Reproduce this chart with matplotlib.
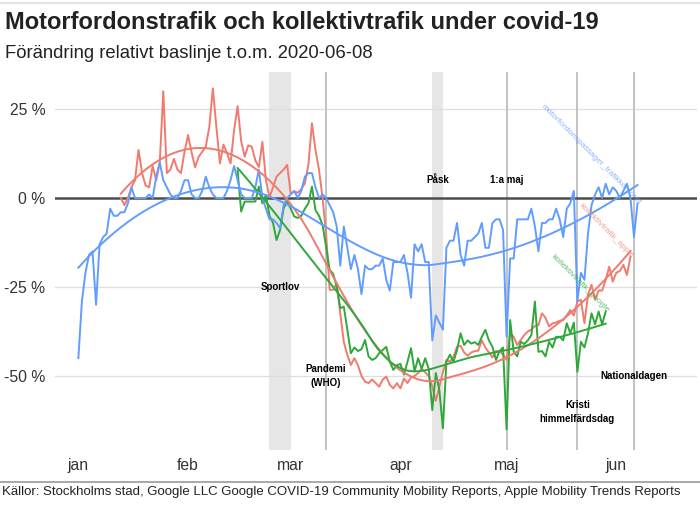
import numpy as np
import matplotlib
matplotlib.use("Agg")
import matplotlib.pyplot as plt
from matplotlib.lines import Line2D

plt.rcParams['font.family'] = ['Liberation Sans', 'DejaVu Sans']

# dag 0 = 2020-01-01
month_days = [0, 31, 60, 91, 121, 152]
month_labels = ['jan', 'feb', 'mar', 'apr', 'maj', 'jun']

# motorfordonspassager_trafikkontoret, dag 0..158
blue_start = 0
blue = [-45, -29, -21, -16, -15, -30, -13, -11, -10, -3,
        -5, -5, -4, -4, -1.5, 3, 0, 0, 0, 0,
        1, 0, 6, 10, 5, 3, 1, 0, 0, 2,
        5, 5, 1, 0, 0, 2, 6, 3, 1, 0,
        0, 0, 2, 5, 9, 5, 1, 0, 0, 0,
        3, 8, 0, -3, -6, -6, -7, -8.5, -2, 0,
        1, 2, 0, 2, 6, 7, 7, 3, 0, 1,
        0, -2, -4, -8, -19, -8, -14, -20, -16, -20,
        -27, -19, -20, -20, -19, -19, -17, -23, -26, -18,
        -18, -18, -16, -21, -28, -13, -15, -13, -18, -18,
        -40, -33, -35, -37, -14, -12, -12, -7, -16, -19,
        -12, -12, -11, -10, -7, -14, -14, -7, -6, -6,
        -9, -39, -17, -17, -6, -6, -6, -6, -3, -8,
        -15, -7, -7, -6, -6, -3, -6, -11, -3, -1.5,
        2, -29, -21, -23, -10, -2, 1, 3, 0, 4,
        1, 3, 2, 0, 2, 4, 0, -11, -1.5]

# kollektivtrafik_apple, dag 12..156
red_start = 12
red = [0, -2, 0, 3, 5, 13.5, 7, 3.5, 3, 9,
       5, 10, 30, 7, 8, 11, 8, 7, 13, 17.7,
       12.8, 8.6, 11.6, 13, 14.4, 20, 30.8, 20, 9.7, 15,
       12.6, 9.7, 19, 25.8, 16, 11.6, 14.8, 14.4, 10.6, 8.7,
       15.8, 5, 0.2, 3, 6, 7, 8, 9.3, 1.3, 1.8,
       1.5, 2.5, 4.1, 9.3, 21, 13.5, 7.9, 0, -10, -25.8,
       -25.8, -24, -32.4, -40.4, -44.1, -46.9, -45, -47, -50, -51.6,
       -52, -51, -52, -53, -51, -50.2, -52.5, -53.5, -52, -53.5,
       -50.7, -52, -50.4, -50, -49.2, -48, -49, -50, -53, -57,
       -53, -49, -45.5, -46, -44.6, -41.8, -41.5, -43.4, -44.3, -43.4,
       -43, -42.9, -40, -42, -43.4, -44.8, -43, -43, -44, -45.5,
       -38, -39, -41.3, -39.9, -38.5, -37.5, -37, -36, -35.7, -32.4,
       -33.7, -36.1, -35.2, -35, -34.5, -34.3, -33, -31.5, -33, -29.1,
       -28.6, -35.2, -27.2, -24.4, -28.6, -26, -26, -23, -19.3, -23.5,
       -21, -20.5, -18.8, -21.6, -16.5]

# kollektivtrafik_google, dag 45..149
green_start = 45
green = [7.7, -3.8, -1, -1, -1, -1, 3.2, -1.5, 0.9, -5,
         -7, -11.8, -9, -2.9, -1, -3, -5.2, -5.6, -5, -3,
         -1.5, 3.2, -3.4, -5, -7.6, -13.7, -20.2, -21.3, -24.9, -31,
         -30.5, -37, -43.6, -42, -43, -42.5, -39.9, -44.5, -45.5, -45,
         -43.6, -42.7, -41.8, -46, -48.3, -47, -46.6, -49.6, -46, -42.2,
         -48.7, -45, -48, -45, -48, -59.6, -49.2, -54, -64.7, -46,
         -44, -46, -42.7, -38, -41.3, -40, -40.9, -40.5, -41.3, -39,
         -37, -40, -41.8, -45.5, -43, -42, -65, -34.3, -43.2, -44.5,
         -40.4, -41, -40, -38.5, -29.1, -43.2, -43, -44.5, -40.4, -42,
         -39, -39, -40, -35.2, -38, -35, -48.8, -40.4, -42, -38,
         -32.4, -35.5, -31.9, -35.5, -31.9]

series = [
    ('kollektivtrafik_apple', red_start, red, '#F07A6E'),
    ('kollektivtrafik_google', green_start, green, '#2EA83A'),
    ('motorfordonspassager_trafikkontoret', blue_start, blue, '#619CFF'),
]

# händelser: linjer, perioder och texter (text, dag, y)
event_lines = [70, 121, 141, 157]
event_bands = [(54, 60), (100, 103)]
event_texts = [('Sportlov', 57, -25), ('Påsk', 101.5, 5), ('1:a maj', 121, 5),
               ('Pandemi\n(WHO)', 70, -50), ('Kristi\nhimmelfärdsdag', 141, -60),
               ('Nationaldagen', 157, -50)]


def loess(x, y, span=0.75):
    x = np.asarray(x, float)
    y = np.asarray(y, float)
    q = int(np.floor(len(x) * span))
    xs = np.linspace(x.min(), x.max(), 80)
    fit = []
    for x0 in xs:
        d = np.abs(x - x0)
        h = np.sort(d)[q - 1]
        w = np.clip(1 - (d / h) ** 3, 0, None) ** 3
        c = np.polyfit(x - x0, y, 2, w=np.sqrt(w))
        fit.append(c[-1])
    return xs, np.array(fit)


fig = plt.figure(figsize=(7, 5.13), dpi=100)
ax = fig.add_axes([55 / 700, 1 - 450 / 513, 642 / 700, 378 / 513])

for a, b in event_bands:
    ax.axvspan(a, b, color='#e6e6e6', lw=0, zorder=0)
for d in event_lines:
    ax.axvline(d, color='#bdbdbd', lw=1.3, zorder=1)
for yv in [25, -25, -50]:
    ax.axhline(yv, color='#dedede', lw=0.9, zorder=0.5)
ax.axhline(0, color='#4d4d4d', lw=1.8, zorder=2)

for name, start, vals, col in series:
    days = np.arange(start, start + len(vals))
    ax.plot(days, vals, color=col, lw=1.4, zorder=3)
    sx, sy = loess(days, vals)
    ax.plot(sx, sy, color=col, lw=1.4, zorder=4)
    ax.text(days[-1] + 0.5, vals[-1], name, color=col, alpha=0.75, fontsize=6,
            rotation=-45, rotation_mode='anchor', ha='right', va='center',
            zorder=5)

for txt, d, yv in event_texts:
    ax.text(d, yv, txt, fontsize=7, fontweight='bold', ha='center',
            va='center', linespacing=1.5, zorder=6)

ax.set_xlim(-6.6, 174.8)
ax.set_ylim(-70.8, 35.4)
ax.set_xticks(month_days)
ax.set_xticklabels(month_labels)
ax.set_yticks([25, 0, -25, -50])
ax.set_yticklabels(['25 %', '0 %', '-25 %', '-50 %'])
ax.tick_params(length=0, labelsize=11.3, labelcolor='#333333')
ax.tick_params(axis='y', pad=7)
ax.tick_params(axis='x', pad=6)
for s in ax.spines.values():
    s.set_visible(False)

fig.text(5 / 700, 1 - 29 / 513, 'Motorfordonstrafik och kollektivtrafik under covid-19',
         fontsize=17, fontweight='bold', ha='left', va='baseline', color='#222222')
fig.text(5 / 700, 1 - 58 / 513, 'Förändring relativt baslinje t.o.m. 2020-06-08',
         fontsize=13.3, ha='left', va='baseline', color='#222222')
fig.add_artist(Line2D([0, 1], [1 - 3 / 513, 1 - 3 / 513], color='#e5e5e5', lw=1.5))
fig.add_artist(Line2D([0, 1], [1 - 482 / 513, 1 - 482 / 513], color='#9a9a9a', lw=1.2))
fig.text(2 / 700, 1 - 492 / 513,
         'Källor: Stockholms stad, Google LLC Google COVID-19 Community Mobility Reports, Apple Mobility Trends Reports',
         fontsize=9.55, ha='left', va='center', color='#222222')

fig.savefig('out.png', dpi=100)
